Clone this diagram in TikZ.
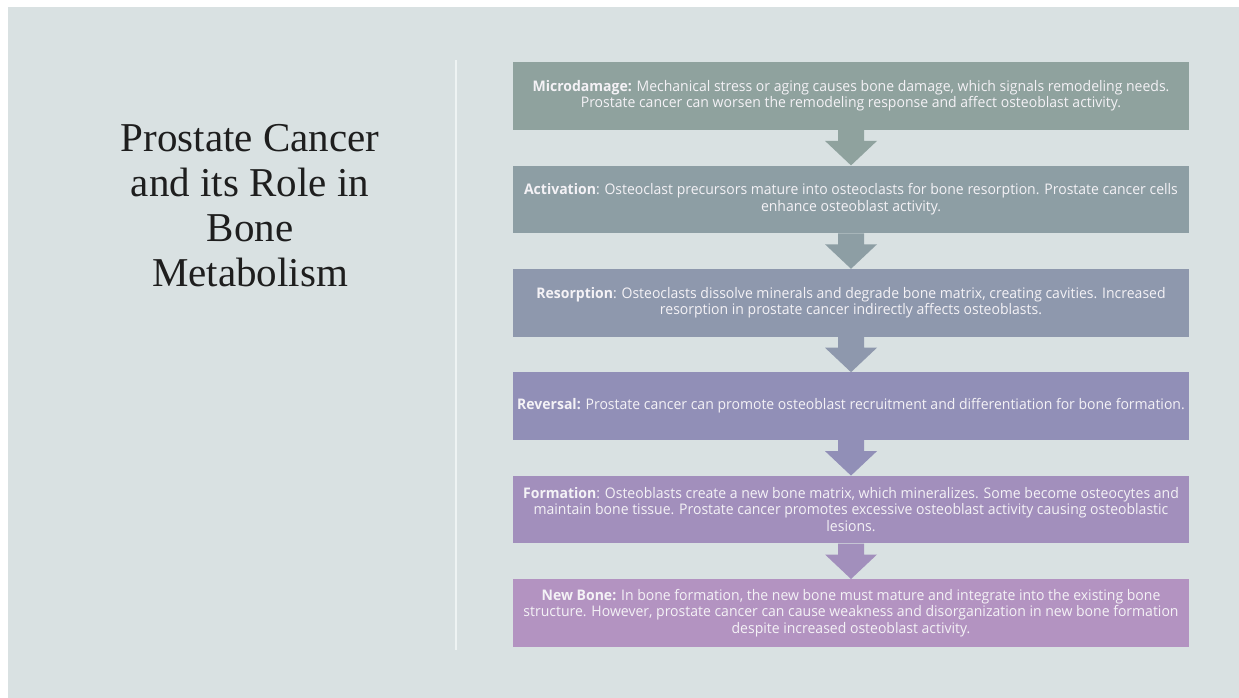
\documentclass[tikz,border=0pt]{standalone}
\usepackage{fontspec}
\setmainfont{Liberation Serif}
\newfontfamily\bodyfont[FakeStretch=0.96]{Open Sans}
\usetikzlibrary{calc}

\definecolor{slidebg}{HTML}{D9E1E2}
\definecolor{divider}{HTML}{EEF3F3}
\definecolor{titleink}{HTML}{1E1E1E}
\definecolor{stepA}{HTML}{8FA29E}
\definecolor{stepB}{HTML}{8D9EA4}
\definecolor{stepC}{HTML}{8E98AD}
\definecolor{stepD}{HTML}{918FB7}
\definecolor{stepE}{HTML}{A28FBC}
\definecolor{stepF}{HTML}{B393C1}
\definecolor{bodyink}{HTML}{F4F2F6}

\tikzset{
  stagebox/.style={anchor=north, minimum width=676pt, minimum height=67.5pt,
    inner sep=0pt, align=center, text=bodyink,
    font=\bodyfont\fontsize{14.6}{16.5}\selectfont},
  titletext/.style={align=center, text=titleink,
    font=\fontsize{41}{45}\selectfont},
}

% downward block arrow from the bottom of one stage to the top of the next
\newcommand{\stagearrow}[3]{%
  \fill[#3] ($(#1.south)+(-13,0)$) -- ($(#1.south)+(-13,11)$)
    -- ($(#1.south)+(-26,11)$) -- (#2.north)
    -- ($(#1.south)+(26,11)$) -- ($(#1.south)+(13,11)$)
    -- ($(#1.south)+(13,0)$) -- cycle;}

\begin{document}
\begin{tikzpicture}[x=1pt,y=-1pt]
  \useasboundingbox (0,0) rectangle (1239,698);
  \fill[white] (0,0) rectangle (1239,698);
  \fill[slidebg] (8,7) rectangle (1239,698);

  % title and divider
  \node[titletext] (title) at (250,206)
    {Prostate Cancer\\and its Role in\\Bone\\Metabolism};
  \draw[divider, line width=1.8pt] (456,60) -- (456,650);

  % stages
  \node[stagebox, fill=stepA] (b1) at (851,62)
    {\textbf{Microdamage:} Mechanical stress or aging causes bone damage, which signals remodeling needs.\\
     Prostate cancer can worsen the remodeling response and affect osteoblast activity.};
  \node[stagebox, fill=stepB] (b2) at (851,165.4)
    {\textbf{Activation}: Osteoclast precursors mature into osteoclasts for bone resorption. Prostate cancer cells\\
     enhance osteoblast activity.};
  \node[stagebox, fill=stepC] (b3) at (851,268.8)
    {\textbf{Resorption}: Osteoclasts dissolve minerals and degrade bone matrix, creating cavities. Increased\\
     resorption in prostate cancer indirectly affects osteoblasts.};
  \node[stagebox, fill=stepD] (b4) at (851,372.2)
    {\textbf{Reversal:} Prostate cancer can promote osteoblast recruitment and differentiation for bone formation.};
  \node[stagebox, fill=stepE] (b5) at (851,475.6)
    {\textbf{Formation}: Osteoblasts create a new bone matrix, which mineralizes. Some become osteocytes and\\
     maintain bone tissue. Prostate cancer promotes excessive osteoblast activity causing osteoblastic\\
     lesions.};
  \node[stagebox, fill=stepF] (b6) at (851,579)
    {\textbf{New Bone:} In bone formation, the new bone must mature and integrate into the existing bone\\
     structure. However, prostate cancer can cause weakness and disorganization in new bone formation\\
     despite increased osteoblast activity.};

  % connectors
  \stagearrow{b1}{b2}{stepA}
  \stagearrow{b2}{b3}{stepB}
  \stagearrow{b3}{b4}{stepC}
  \stagearrow{b4}{b5}{stepD}
  \stagearrow{b5}{b6}{stepE}
\end{tikzpicture}
\end{document}
